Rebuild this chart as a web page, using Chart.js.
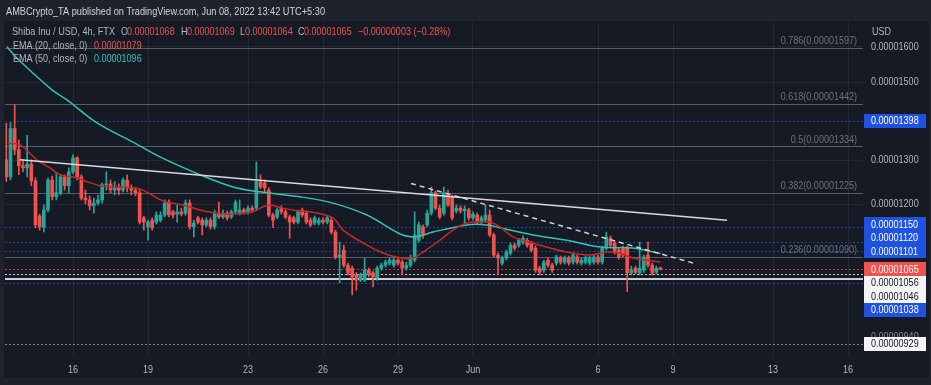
<!DOCTYPE html>
<html>
<head>
<meta charset="utf-8">
<script src="https://cdn.jsdelivr.net/npm/chart.js@4.4.0/dist/chart.umd.min.js"></script>
<style>
html,body{margin:0;padding:0;background:#1e222d;}
</style>
</head>
<body>
<canvas id="grafica" width="931" height="385"></canvas>
<script>
// precios en unidades de 0.00000001 USD (velas de 4h, SHIB/USD FTX)
const dia_inicio = 13 + 8 / 24;   // 13 mayo 08:00
const paso = 4 / 24;

const apertura = [
  1301,1261,1378,1325,1287,1282,1291,1252,1174,1151,
  1187,1254,1216,1225,1261,1241,1273,1306,1261,1213,
  1209,1196,1202,1209,1243,1245,1231,1236,1231,1254,
  1236,1231,1225,1170,1151,1165,1161,1165,1176,1204,
  1183,1178,1183,1180,1202,1151,1170,1165,1155,1165,
  1151,1180,1172,1180,1172,1183,1180,1187,1183,1191,
  1191,1250,1247,1231,1176,1172,1191,1183,1172,1170,
  1161,1187,1180,1165,1159,1159,1165,1161,1165,1140,
  1089,1103,1073,1067,1054,1044,1044,1063,1058,1048,
  1067,1073,1077,1073,1083,1079,1067,1073,1083,1123,
  1151,1155,1180,1225,1191,1180,1220,1216,1185,1191,
  1185,1187,1170,1176,1161,1165,1176,1134,1093,1077,
  1087,1097,1113,1113,1119,1123,1117,1107,1067,1063,
  1083,1073,1077,1087,1079,1087,1079,1089,1077,1079,
  1077,1079,1089,1079,1107,1127,1117,1103,1107,1107,
  1058,1067,1058,1063,1093,1073,1059,1068
];
const maximo = [
  1391,1393,1439,1349,1301,1361,1301,1259,1178,1198,
  1259,1263,1270,1266,1266,1282,1313,1308,1266,1231,
  1218,1213,1220,1247,1273,1254,1250,1245,1259,1266,
  1243,1236,1231,1174,1165,1170,1183,1183,1209,1209,
  1187,1198,1191,1209,1209,1165,1174,1170,1170,1170,
  1187,1204,1187,1185,1187,1209,1209,1191,1196,1196,
  1296,1266,1254,1236,1180,1191,1196,1187,1176,1174,
  1187,1191,1185,1170,1174,1170,1170,1174,1170,1144,
  1119,1113,1077,1071,1059,1058,1087,1067,1061,1071,
  1077,1083,1087,1089,1089,1083,1079,1093,1183,1161,
  1155,1187,1238,1229,1198,1238,1231,1220,1198,1196,
  1196,1191,1183,1180,1174,1198,1187,1138,1097,1091,
  1103,1117,1117,1127,1132,1127,1121,1111,1071,1083,
  1087,1077,1093,1091,1091,1091,1097,1093,1087,1091,
  1091,1093,1093,1111,1140,1132,1121,1107,1111,1111,
  1071,1071,1119,1093,1119,1077,1071,1069
];
const minimo = [
  1250,1254,1313,1266,1273,1261,1241,1149,1144,1140,
  1183,1209,1209,1220,1231,1225,1268,1254,1209,1200,
  1187,1180,1198,1202,1231,1225,1220,1220,1227,1227,
  1220,1218,1157,1144,1123,1144,1157,1161,1172,1172,
  1170,1161,1174,1176,1146,1130,1157,1134,1151,1146,
  1146,1168,1168,1165,1168,1178,1176,1178,1178,1183,
  1187,1234,1227,1172,1149,1168,1178,1168,1127,1157,
  1157,1172,1157,1151,1155,1155,1157,1157,1136,1085,
  1039,1069,1054,1016,1025,1041,1041,1050,1031,1044,
  1063,1069,1073,1069,1073,1054,1063,1069,1079,1119,
  1127,1151,1176,1187,1168,1176,1194,1165,1180,1180,
  1157,1165,1165,1157,1157,1161,1130,1089,1054,1073,
  1083,1093,1103,1109,1115,1109,1099,1059,1054,1059,
  1069,1059,1073,1075,1075,1073,1075,1075,1073,1075,
  1073,1075,1075,1075,1103,1109,1095,1085,1089,1022,
  1054,1056,1054,1059,1069,1054,1056,1064
];
const cierre = [
  1261,1378,1325,1287,1282,1291,1252,1155,1151,1187,
  1254,1216,1225,1261,1241,1273,1306,1261,1213,1209,
  1196,1202,1209,1243,1245,1231,1236,1231,1254,1236,
  1231,1225,1161,1161,1161,1149,1176,1176,1202,1176,
  1176,1183,1178,1202,1151,1159,1161,1155,1165,1151,
  1180,1172,1180,1170,1183,1204,1187,1183,1191,1187,
  1250,1238,1236,1176,1165,1187,1183,1172,1161,1161,
  1183,1176,1161,1155,1170,1165,1161,1170,1140,1089,
  1093,1073,1058,1050,1044,1054,1063,1054,1050,1067,
  1073,1079,1083,1083,1077,1067,1073,1087,1134,1155,
  1134,1180,1225,1191,1172,1225,1198,1170,1191,1185,
  1189,1170,1178,1161,1170,1176,1134,1093,1087,1087,
  1099,1113,1107,1123,1127,1113,1103,1063,1059,1079,
  1073,1063,1089,1079,1087,1077,1093,1079,1083,1087,
  1087,1089,1079,1107,1130,1113,1099,1089,1093,1058,
  1063,1059,1067,1089,1073,1058,1067,1065
];

// medias moviles (dia del mes, mayo=1..31, junio=32..)
const ema20_dias = [13.4,13.88,14.56,15.08,15.48,16.16,16.56,17.08,17.48,18.4,18.8,19.36,19.76,20.4,21.08,21.76,22.4,23.2,23.6,23.88,24.4,25.08,25.48,26.4,26.8,27.76,28.4,29.08,29.6,30.0,30.68,31.2,31.76,32.28,32.68,33.08,33.6,34.4,35.76,36.68,37.36,37.88,38.4,39.5];
const ema20 = [1341,1337,1301,1282,1266,1259,1250,1241,1238,1236,1231,1213,1204,1198,1187,1180,1178,1183,1194,1198,1191,1185,1183,1170,1144,1113,1097,1087,1087,1099,1123,1144,1159,1161,1161,1151,1130,1117,1099,1093,1099,1097,1087,1079];
const ema50_dias = [13.36,13.76,15.16,15.76,16.96,18.4,19.48,21.08,22.4,23.48,25.08,26.4,27.76,29.08,29.68,30.4,31.76,32.56,33.08,34.4,35.76,37.08,38.4,39.5];
const ema50 = [1600,1567,1479,1452,1392,1344,1308,1266,1238,1227,1216,1202,1176,1136,1130,1140,1155,1155,1149,1134,1123,1109,1107,1096];

// lineas de tendencia (dia, precio)
const tendencia = [[13.88, 1301], [42.16, 1165]];
const tendencia_corta = [[29.52, 1246], [40.96, 1075]];

// fibonacci
const fib_ratios = ['0.786', '0.618', '0.5', '0.382', '0.236'];
const fib_valores = [1597, 1442, 1334, 1225, 1090];

// niveles horizontales
const niveles_azules = [1398, 1150, 1120, 1101, 1038];
const niveles_blancos = [1056, 1046];
const precio_actual = 1065;
const nivel_inferior = 929;
const nivel_oculto = 940;

// ejes
const dias_eje = [16, 19, 23, 26, 29, 32, 37, 40, 44, 47];
const etiquetas_eje = ['16', '19', '23', '26', '29', 'Jun', '6', '9', '13', '16'];
const ticks_precio = [1600, 1500, 1300, 1200];

const FUENTE = "'Liberation Sans', Arial, sans-serif";
const SX = 0.82;   // la captura original esta comprimida en horizontal
const VERDE = '#26a69a';
const ROJO = '#ef5350';
const GRIS = '#b2b5be';

function fmt(v) { return (v * 1e-8).toFixed(8); }

const tiempos = cierre.map(function(c, i) { return dia_inicio + i * paso; });
const colores = cierre.map(function(c, i) { return c >= apertura[i] ? VERDE : ROJO; });

function texto(c, s, x, y, sx, align) {
  c.save();
  c.translate(x, y);
  c.scale(sx, 1);
  c.textAlign = align || 'left';
  c.fillText(s, 0, 0);
  c.restore();
}

function textoAncho(c, s, x, y, ancho) {
  texto(c, s, x, y, ancho / c.measureText(s).width, 'left');
}

const fondo = {
  id: 'fondo',
  beforeDraw(chart) {
    const c = chart.ctx;
    c.save();
    c.fillStyle = '#1e222d';
    c.fillRect(0, 0, chart.width, chart.height);
    c.fillStyle = '#161a25';
    c.fillRect(4, 21, chart.width - 6, 357);
    c.restore();
  }
};

function lineaH(c, area, py, color, dash, ancho) {
  const y = Math.round(py) + (ancho % 2 ? 0.5 : 0);
  c.beginPath();
  c.setLineDash(dash);
  c.strokeStyle = color;
  c.lineWidth = ancho;
  c.moveTo(area.left, y);
  c.lineTo(area.right, y);
  c.stroke();
}

const niveles = {
  id: 'niveles',
  beforeDatasetsDraw(chart) {
    const c = chart.ctx, y = chart.scales.y, area = chart.chartArea;
    c.save();
    fib_valores.forEach(function(v) {
      lineaH(c, area, y.getPixelForValue(v), 'rgba(120,123,134,0.7)', [], 1);
    });
    niveles_azules.forEach(function(v) {
      lineaH(c, area, y.getPixelForValue(v), 'rgba(41,98,255,0.55)', [2, 2], 1);
    });
    lineaH(c, area, y.getPixelForValue(precio_actual), 'rgba(239,83,80,0.75)', [2, 2], 1);
    lineaH(c, area, y.getPixelForValue(niveles_blancos[0]), 'rgba(235,235,235,0.85)', [2, 2], 1);
    lineaH(c, area, y.getPixelForValue(niveles_blancos[1]), 'rgba(225,225,225,0.9)', [], 2);
    lineaH(c, area, y.getPixelForValue(nivel_inferior), 'rgba(200,200,200,0.6)', [2, 2], 1);

    c.setLineDash([]);
    c.font = '11px ' + FUENTE;
    c.textBaseline = 'bottom';
    c.fillStyle = 'rgba(120,123,134,0.9)';
    fib_ratios.forEach(function(r, i) {
      const py = y.getPixelForValue(fib_valores[i]);
      texto(c, r + '(' + fmt(fib_valores[i]) + ')', area.right - 6, py - 1, SX, 'right');
    });
    c.restore();
  }
};

function caja(c, py, v, bg, fg) {
  c.fillStyle = bg;
  c.fillRect(864, Math.round(py - 7), 62, 14);
  c.fillStyle = fg;
  texto(c, fmt(v), 871, py + 0.5, SX, 'left');
}

const etiquetas = {
  id: 'etiquetas',
  afterDraw(chart) {
    const c = chart.ctx, y = chart.scales.y, x = chart.scales.x;
    c.save();
    c.textBaseline = 'middle';
    c.font = '11px ' + FUENTE;

    // ejes
    c.fillStyle = GRIS;
    x.ticks.forEach(function(t) {
      texto(c, etiquetas_eje[dias_eje.indexOf(t.value)], x.getPixelForValue(t.value), 370, SX, 'center');
    });
    y.ticks.forEach(function(t) {
      texto(c, fmt(t.value), 871, y.getPixelForValue(t.value), SX, 'left');
    });
    texto(c, 'USD', 872, 32, SX, 'left');

    // cabecera y leyenda
    c.fillStyle = '#d1d4dc';
    textoAncho(c, 'AMBCrypto_TA published on TradingView.com, Jun 08, 2022 13:42 UTC+5:30', 6, 12, 319);

    const partes = [
      ['O', 121, GRIS], [fmt(apertura[157]), 127, ROJO],
      ['H', 181, GRIS], [fmt(maximo[157]), 187, ROJO], ['L', 240, GRIS], [fmt(minimo[157]), 245, ROJO],
      ['C', 298, GRIS], [fmt(cierre[157]), 304, ROJO], ['\u22120.00000003 (\u22120.28%)', 358, ROJO]
    ];
    c.fillStyle = GRIS;
    textoAncho(c, 'Shiba Inu / USD, 4h, FTX', 12, 32, 103);
    partes.forEach(function(p) { c.fillStyle = p[2]; texto(c, p[0], p[1], 32, SX, 'left'); });
    c.fillStyle = GRIS;
    texto(c, 'EMA (20, close, 0)', 13, 46, SX, 'left');
    texto(c, 'EMA (50, close, 0)', 13, 59, SX, 'left');
    c.fillStyle = ROJO;
    texto(c, fmt(ema20[ema20.length - 1]), 94, 46, SX, 'left');
    c.fillStyle = '#2ec4b0';
    texto(c, fmt(ema50[ema50.length - 1]), 94, 59, SX, 'left');

    // etiquetas de precio a la derecha, sin solaparse
    const h = 13.5;
    const ancla = y.getPixelForValue(precio_actual);
    let lim = ancla;
    const cajas = [];
    niveles_azules.filter(function(v) { return v > precio_actual; }).sort(function(a, b) { return a - b; })
      .forEach(function(v) {
        let py = y.getPixelForValue(v);
        if (py > lim - h) py = lim - h;
        cajas.push([py, v, '#1f52e0', '#ffffff']);
        lim = py;
      });
    lim = ancla;
    niveles_blancos.concat(niveles_azules.filter(function(v) { return v < precio_actual; }))
      .sort(function(a, b) { return b - a; })
      .forEach(function(v) {
        let py = y.getPixelForValue(v);
        if (py < lim + h) py = lim + h;
        const azul = niveles_azules.indexOf(v) >= 0;
        cajas.push([py, v, azul ? '#1f52e0' : '#f4f4f4', azul ? '#ffffff' : '#131722']);
        lim = py;
      });
    cajas.push([ancla, precio_actual, ROJO, '#ffffff']);
    cajas.forEach(function(k) { caja(c, k[0], k[1], k[2], k[3]); });

    c.fillStyle = '#8a8d96';
    texto(c, fmt(nivel_oculto), 871, y.getPixelForValue(nivel_oculto), SX, 'left');
    caja(c, y.getPixelForValue(nivel_inferior), nivel_inferior, '#f4f4f4', '#131722');
    c.restore();
  }
};

const ctx = document.getElementById('grafica');

new Chart(ctx, {
  type: 'bar',
  data: {
    datasets: [
      {
        type: 'line',
        data: tendencia.map(function(p) { return { x: p[0], y: p[1] }; }),
        borderColor: '#d9d9d9', borderWidth: 1.5, pointRadius: 0, order: 1
      },
      {
        type: 'line',
        data: tendencia_corta.map(function(p) { return { x: p[0], y: p[1] }; }),
        borderColor: '#d0d0d0', borderWidth: 1.5, borderDash: [5, 4], pointRadius: 0, order: 1
      },
      {
        type: 'line',
        data: ema20_dias.map(function(d, i) { return { x: d, y: ema20[i] }; }),
        borderColor: '#c62828', borderWidth: 1.5, pointRadius: 0, tension: 0.35, order: 2
      },
      {
        type: 'line',
        data: ema50_dias.map(function(d, i) { return { x: d, y: ema50[i] }; }),
        borderColor: '#36c2b0', borderWidth: 1.5, pointRadius: 0, tension: 0.35, order: 3
      },
      {
        data: tiempos.map(function(t, i) { return { x: t, y: [minimo[i], maximo[i]] }; }),
        backgroundColor: colores, barThickness: 1, grouped: false, order: 5
      },
      {
        data: tiempos.map(function(t, i) { return { x: t, y: [apertura[i], cierre[i]] }; }),
        backgroundColor: colores, barThickness: 3, minBarLength: 1, grouped: false, order: 4
      }
    ]
  },
  options: {
    responsive: false,
    animation: false,
    devicePixelRatio: 1,
    layout: { padding: { left: 5, top: 22, right: 0, bottom: 0 } },
    plugins: { legend: { display: false }, tooltip: { enabled: false } },
    scales: {
      x: {
        type: 'linear',
        min: 13.28,
        max: 47.6,
        offset: false,
        grid: { color: 'rgba(54,58,69,0.45)', drawTicks: false, offset: false },
        border: { display: false },
        afterBuildTicks: function(s) { s.ticks = dias_eje.map(function(v) { return { value: v }; }); },
        afterFit: function(s) { s.height = 28; },
        ticks: { display: false, autoSkip: false }
      },
      y: {
        type: 'logarithmic',
        position: 'right',
        min: 906.9,
        max: 1674.5,
        bounds: 'data',
        grid: { color: 'rgba(54,58,69,0.45)', drawTicks: false },
        border: { display: false },
        afterBuildTicks: function(s) { s.ticks = ticks_precio.map(function(v) { return { value: v }; }); },
        afterFit: function(s) { s.width = 68; },
        ticks: { display: false, autoSkip: false }
      }
    }
  },
  plugins: [fondo, niveles, etiquetas]
});
</script>
</body>
</html>
